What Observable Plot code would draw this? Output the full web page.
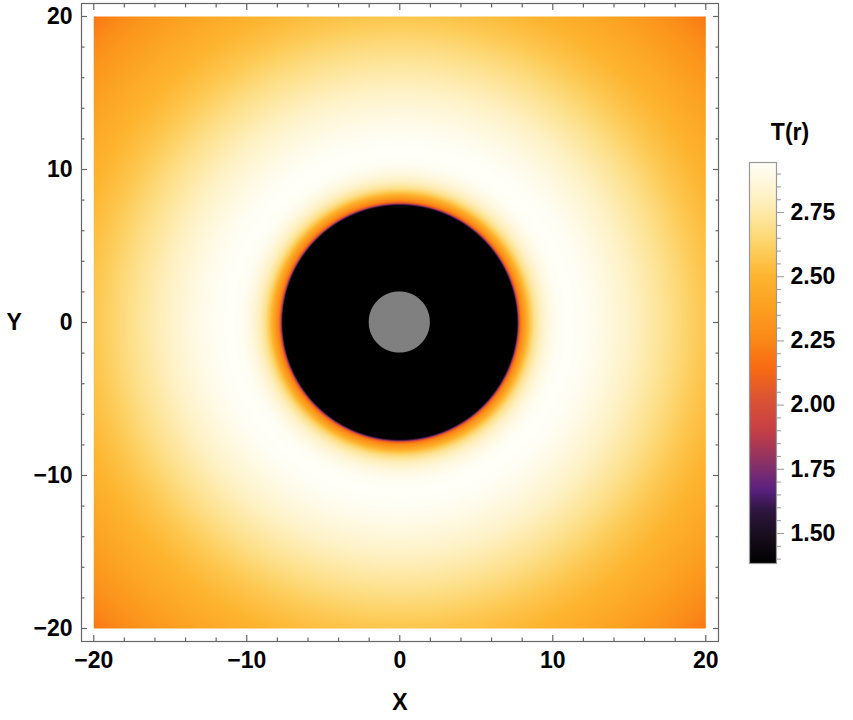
<!DOCTYPE html>
<html>
<head>
<meta charset="utf-8">
<script src="https://cdn.jsdelivr.net/npm/d3@7"></script>
<script src="https://cdn.jsdelivr.net/npm/@observablehq/plot@0.6"></script>
<style>
  body { margin: 0; background: #fff; }
  #wrap { position: relative; width: 853px; height: 720px; font-family: "Liberation Sans", Arial, sans-serif; }
  #wrap svg { position: absolute; top: 0; overflow: visible; }
  #title { position: absolute; left: 755px; width: 70px; top: 119px; text-align: center; font: bold 23px "Liberation Sans", Arial, sans-serif; }
</style>
</head>
<body>
<div id="wrap"><div id="title">T(r)</div></div>
<script>
// Radial temperature profile T(r)
const radii = [0, 7.66, 7.72, 7.8, 7.9, 8.05, 8.25, 8.5, 8.8, 9.2, 9.7, 10.3, 11, 12, 13, 14, 15, 16, 17, 18, 19, 20, 22, 24, 26, 28.3];
const temps = [1.38, 1.38, 1.7, 2.02, 2.2, 2.3, 2.42, 2.57, 2.7, 2.8, 2.88, 2.93, 2.945, 2.935, 2.905, 2.865, 2.82, 2.77, 2.72, 2.67, 2.62, 2.57, 2.49, 2.41, 2.32, 2.19];
const holeRadius = 2;

// Colour map (value -> colour)
const colorValues = [1.38, 1.50, 1.59, 1.67, 1.74, 1.82, 1.91, 2.05, 2.14, 2.26, 2.38, 2.50, 2.60, 2.69, 2.80, 2.945];
const colorStops  = ["#000000", "#1a0e20", "#2e1640", "#5a2080", "#7a2c70", "#a0365a", "#c84045", "#e0582e", "#f76a12", "#fb8a18", "#fca020", "#fdb530", "#fdcd5a", "#fde08a", "#fef0c0", "#fffff8"];
const tRange = [1.383, 2.945];

// Ticks
const majorTicks = [-20, -10, 0, 10, 20];
const minorTicks = [-18, -16, -14, -12, -8, -6, -4, -2, 2, 4, 6, 8, 12, 14, 16, 18];
const barMajorTicks = [1.5, 1.75, 2.0, 2.25, 2.5, 2.75];
const barMinorTicks = [1.40, 1.45, 1.55, 1.60, 1.65, 1.70, 1.80, 1.85, 1.90, 1.95, 2.05, 2.10, 2.15, 2.20, 2.30, 2.35, 2.40, 2.45, 2.55, 2.60, 2.65, 2.70, 2.80, 2.85, 2.90];

const T = d3.scaleLinear().domain(radii).range(temps).clamp(true);
const fmt = d => (d < 0 ? "\u2212" + Math.abs(d) : String(d));
const holeXs = d3.range(-holeRadius, holeRadius + 1e-9, holeRadius / 120);

const colorScale = { type: "linear", domain: colorValues, range: colorStops, interpolate: "rgb", clamp: true };
const FS = 23;
const axisStyle = { stroke: "#666", strokeWidth: 1.2 };

function ticksFor(Axis, anchor) {
  return [
    Axis({ anchor, ticks: majorTicks, tickSize: -6, tickFormat: () => "", label: null, ...axisStyle }),
    Axis({ anchor, ticks: minorTicks, tickSize: -3.5, tickFormat: () => "", label: null, ...axisStyle })
  ];
}

const main = Plot.plot({
  width: 853, height: 720,
  marginLeft: 81, marginRight: 135, marginTop: 3, marginBottom: 79,
  style: { fontFamily: "'Liberation Sans', Arial, sans-serif", background: "transparent", color: "#000" },
  x: { domain: [-20.8, 20.83] },
  y: { domain: [-20.85, 20.85] },
  color: colorScale,
  marks: [
    Plot.raster({ x1: -20, x2: 20, y1: -20, y2: 20, width: 612, height: 612,
      fill: (x, y) => T(Math.hypot(x, y)), imageRendering: "auto" }),
    Plot.areaY(holeXs, { x: d => d,
      y1: d => -Math.sqrt(Math.max(0, holeRadius * holeRadius - d * d)),
      y2: d => Math.sqrt(Math.max(0, holeRadius * holeRadius - d * d)),
      fill: "#808080" }),
    Plot.frame({ stroke: "#666", strokeWidth: 1.2 }),
    ...ticksFor(Plot.axisX, "bottom"),
    ...ticksFor(Plot.axisX, "top"),
    ...ticksFor(Plot.axisY, "left"),
    ...ticksFor(Plot.axisY, "right"),
    Plot.axisX({ anchor: "bottom", ticks: majorTicks, tickSize: 0, tickPadding: 10, tickFormat: fmt, label: null, fontSize: FS, fontWeight: "bold", fill: "#000" }),
    Plot.axisY({ anchor: "left", ticks: majorTicks, tickSize: 0, tickPadding: 9, tickFormat: fmt, label: null, fontSize: FS, fontWeight: "bold", fill: "#000" }),
    Plot.text(["X"], { frameAnchor: "bottom", dy: 68, text: d => d, fontSize: FS, fontWeight: "bold", fill: "#000" }),
    Plot.text(["Y"], { frameAnchor: "left", dx: -75, text: d => d, fontSize: FS, fontWeight: "bold", fill: "#000" })
  ]
});
main.style.left = "0px";
document.getElementById("wrap").appendChild(main);

const bar = Plot.plot({
  width: 113, height: 720,
  marginLeft: 9, marginRight: 77, marginTop: 162, marginBottom: 157,
  style: { fontFamily: "'Liberation Sans', Arial, sans-serif", background: "transparent", color: "#000" },
  x: { domain: [0, 1], axis: null },
  y: { domain: tRange },
  color: colorScale,
  marks: [
    Plot.raster({ x1: 0, x2: 1, y1: tRange[0], y2: tRange[1], width: 1, height: 400,
      fill: (x, y) => y, imageRendering: "auto" }),
    Plot.frame({ stroke: "#999", strokeWidth: 1.2 }),
    Plot.axisY({ anchor: "right", ticks: barMinorTicks, tickSize: 4, tickFormat: () => "", label: null, stroke: "#999" }),
    Plot.axisY({ anchor: "right", ticks: barMajorTicks, tickSize: 7, tickPadding: 7, tickFormat: d3.format(".2f"), label: null, stroke: "#999", fontSize: FS, fontWeight: "bold", fill: "#000" })
  ]
});
bar.style.left = "740px";
document.getElementById("wrap").appendChild(bar);
</script>
</body>
</html>
